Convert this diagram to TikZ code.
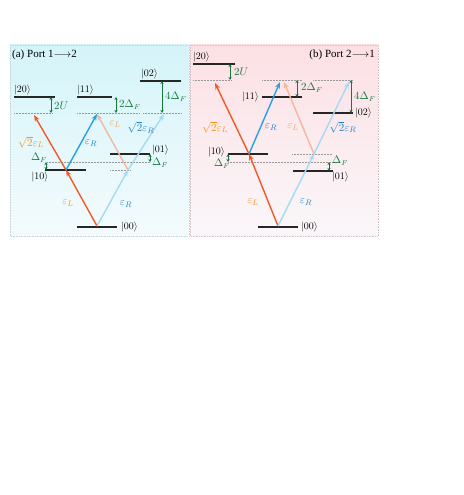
\documentclass[tikz,border=0pt]{standalone}
\usepackage{fontspec}
\setmainfont{Liberation Serif}
\usetikzlibrary{arrows.meta}
\definecolor{redarr}{RGB}{240,90,40}
\definecolor{bluearr}{RGB}{40,160,225}
\definecolor{lbluearr}{RGB}{165,218,245}
\definecolor{salmonarr}{RGB}{245,182,160}
\definecolor{orlab}{RGB}{247,148,29}
\definecolor{bluelab}{RGB}{30,130,200}
\definecolor{salmonlab}{RGB}{244,164,106}
\definecolor{grn}{RGB}{20,120,60}
\definecolor{cyantop}{RGB}{212,244,249}
\definecolor{cyanbot}{RGB}{244,251,253}
\definecolor{pinktop}{RGB}{252,224,228}
\definecolor{pinkbot}{RGB}{250,247,250}
\begin{document}
\begin{tikzpicture}[x=1pt,y=-1pt,
  lvl/.style={line width=1.2pt,black!85},
  dotl/.style={densely dotted,gray!80,line width=0.5pt},
  garr/.style={{Stealth[length=3pt,width=3pt]}-{Stealth[length=3pt,width=3pt]},grn,line width=0.7pt},
  tr/.style={line width=1.4pt,-{Stealth[length=6.5pt,width=5pt]}},
  ket/.style={font=\fontsize{10}{11}\selectfont,inner sep=0pt},
  glab/.style={text=grn,font=\fontsize{10.5}{11}\selectfont,inner sep=0pt,anchor=west},
  elab/.style={font=\fontsize{11}{12}\selectfont,inner sep=0pt}]
\useasboundingbox (0,0) rectangle (463,495);
% backgrounds
\shade[top color=cyantop,bottom color=cyanbot] (10,45) rectangle (189,236);
\draw[densely dotted,cyan!30!gray!40,line width=0.6pt] (10,45) rectangle (189,236);
\shade[top color=pinktop,bottom color=pinkbot] (190,45) rectangle (378,236);
\draw[densely dotted,red!20!gray!40,line width=0.6pt] (190,45) rectangle (378,236);

% ================= panel (a) =================
\node[anchor=west,inner sep=0pt,font=\fontsize{11}{12}\selectfont] (ta) at (12,55) {(a) Port 1$\longrightarrow$2};
% levels
\draw[lvl] (14,97) -- (55,97);   \node[ket,anchor=west] (a20) at (14,90) {$|20\rangle$};
\draw[dotl] (14,113) -- (52,113);
\draw[garr] (51,97) -- (51,113); \node[glab] (a2U) at (54,106) {$2U$};
\draw[lvl] (77,97) -- (112,97);  \node[ket,anchor=west] (a11) at (77,90) {$|11\rangle$};
\draw[dotl] (77,113) -- (140,113);
\draw[garr] (116,97) -- (116,113); \node[glab] (a2D) at (119,104.5) {$2\Delta_F$};
\draw[lvl] (140,81) -- (181,81);  \node[ket,anchor=west] (a02) at (141,74) {$|02\rangle$};
\draw[dotl] (143,113) -- (181,113);
\draw[garr] (162,81) -- (162,113); \node[glab] (a4D) at (165,97) {$4\Delta_F$};
\draw[dotl] (47,162) -- (150,162);
\draw[dotl] (110,170) -- (131,170);
\draw[lvl] (45,170) -- (86,170);  \node[ket] (a10) at (40,177) {$|10\rangle$};
\draw[garr] (46,162) -- (46,170); \node[glab,anchor=center] (aD1) at (39,158) {$\Delta_F$};
\draw[lvl] (110,154) -- (150,154); \node[ket,anchor=west] (a01) at (152,150) {$|01\rangle$};
\draw[garr] (150,154) -- (150,162); \node[glab] (aD2) at (152,163) {$\Delta_F$};
\draw[lvl] (77,227) -- (117,227); \node[ket,anchor=west] (a00) at (121,227) {$|00\rangle$};
% transition points
\coordinate (A00) at (97,226);
\coordinate (A10) at (66,170);
\coordinate (A01) at (128,170);
\coordinate (A20) at (34,115);
\coordinate (A11) at (97,114);
\coordinate (A02) at (164,114);
\draw[tr,redarr] (A00) -- (A10);
\draw[tr,lbluearr] (A00) -- (A01);
\draw[tr,salmonarr] (A01) -- (A11);
\draw[tr,lbluearr] (A01) -- (A02);
\draw[tr,redarr] (A10) -- (A20);
\draw[tr,bluearr] (A10) -- (A11);
% labels
\node[elab,text=orlab] (la1) at (31,142) {$\sqrt{2}\varepsilon_L$};
\node[elab,text=bluelab] (la2) at (91,143) {$\varepsilon_R$};
\node[elab,text=salmonlab] (la3) at (115,124) {$\varepsilon_L$};
\node[elab,text=bluelab] (la4) at (141,127.5) {$\sqrt{2}\varepsilon_R$};
\node[elab,text=orlab] (la5) at (68,203) {$\varepsilon_L$};
\node[elab,text=bluelab] (la6) at (126,204) {$\varepsilon_R$};

% ================= panel (b) =================
\node[anchor=east,inner sep=0pt,font=\fontsize{11}{12}\selectfont] (tb) at (375,55) {(b) Port 2$\longrightarrow$1};
\draw[lvl] (193,64) -- (235,64); \node[ket,anchor=west] (b20) at (193,57) {$|20\rangle$};
\draw[dotl] (193,80) -- (232,80);
\draw[garr] (230,64) -- (230,80); \node[glab] (b2U) at (234,72) {$2U$};
\draw[dotl] (262,80) -- (302,80);
\draw[dotl] (313,80) -- (353,80);
\draw[lvl] (262,97) -- (302,97); \node[ket,anchor=east] (b11) at (259,97) {$|11\rangle$};
\draw[garr] (297,80) -- (297,97); \node[glab] (b2D) at (301,88) {$2\Delta_F$};
\draw[lvl] (313,113) -- (353,113); \node[ket,anchor=west] (b02) at (355,113) {$|02\rangle$};
\draw[garr] (351,80) -- (351,113); \node[glab] (b4D) at (354,97) {$4\Delta_F$};
\draw[dotl] (228,162) -- (332,162);
\draw[dotl] (292,154) -- (332,154);
\draw[lvl] (228,154) -- (268,154); \node[ket,anchor=east] (b10) at (225,152) {$|10\rangle$};
\draw[garr] (228,154) -- (228,162); \node[glab,anchor=center] (bD1) at (222,164) {$\Delta_F$};
\draw[lvl] (293,171) -- (333,171); \node[ket,anchor=west] (b01) at (332,177) {$|01\rangle$};
\draw[garr] (329,162) -- (329,171); \node[glab] (bD2) at (332,161) {$\Delta_F$};
\draw[lvl] (258,227) -- (298,227); \node[ket,anchor=west] (b00) at (301,227) {$|00\rangle$};
\coordinate (B00) at (278,226);
\coordinate (B10) at (249,154);
\coordinate (B01) at (314,154);
\coordinate (B20) at (215,83);
\coordinate (B11a) at (280,82);
\coordinate (B11b) at (284,82);
\coordinate (B02) at (349,82);
\draw[tr,redarr] (B00) -- (B10);
\draw[tr,lbluearr] (B00) -- (B01);
\draw[tr,salmonarr] (B01) -- (B11b);
\draw[tr,lbluearr] (B01) -- (B02);
\draw[tr,redarr] (B10) -- (B20);
\draw[tr,bluearr] (B10) -- (B11a);
\node[elab,text=orlab] (lb1) at (215,127) {$\sqrt{2}\varepsilon_L$};
\node[elab,text=bluelab] (lb2) at (271,127) {$\varepsilon_R$};
\node[elab,text=salmonlab] (lb3) at (293,127) {$\varepsilon_L$};
\node[elab,text=bluelab] (lb4) at (343,127) {$\sqrt{2}\varepsilon_R$};
\node[elab,text=orlab] (lb5) at (253,202) {$\varepsilon_L$};
\node[elab,text=bluelab] (lb6) at (306,202) {$\varepsilon_R$};
\end{tikzpicture}
\end{document}
